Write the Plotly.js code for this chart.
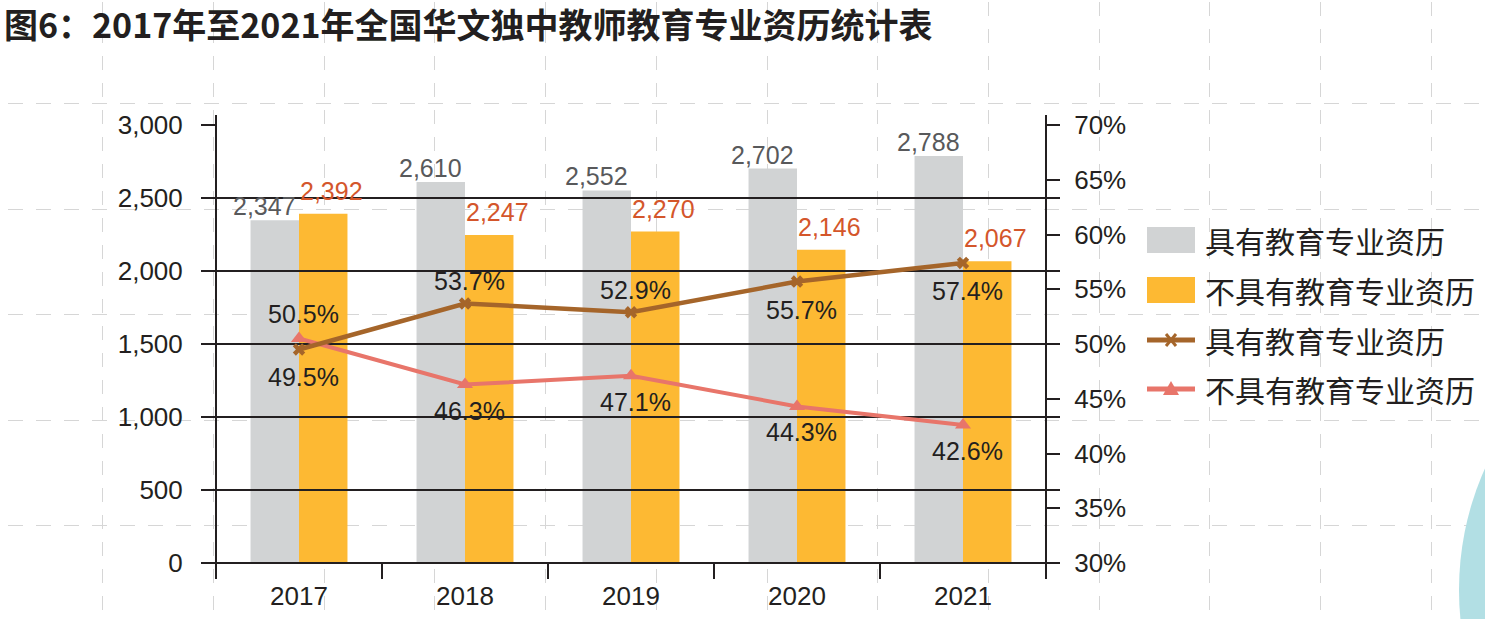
<!DOCTYPE html>
<html><head><meta charset="utf-8">
<script src="https://cdn.plot.ly/plotly-3.0.1.min.js"></script>
<style>
html,body{margin:0;padding:0;width:1485px;height:619px;overflow:hidden;background:#fff;}
#bg{position:absolute;left:0;top:0;}
#circle{position:absolute;left:1459px;top:292px;width:596px;height:596px;border-radius:50%;background:#b2dfe4;}
#chart{position:absolute;left:0;top:0;width:1485px;height:619px;}
</style></head><body>
<svg id="bg" width="1485" height="619" xmlns="http://www.w3.org/2000/svg"></svg>
<div id="circle"></div>
<div id="chart"></div>
<script>
// ---- data ----
const years = ['2017','2018','2019','2020','2021'];
const withQual = [2347, 2610, 2552, 2702, 2788];
const withoutQual = [2392, 2247, 2270, 2146, 2067];
const withPct = [49.5, 53.7, 52.9, 55.7, 57.4];
const withoutPct = [50.5, 46.3, 47.1, 44.3, 42.6];
const withPctLabelSide = ['below','above','above','below','below'];
const withoutPctLabelSide = ['above','below','below','below','below'];
const seriesNames = ['具有教育专业资历', '不具有教育专业资历'];
const leftTicks = [0, 500, 1000, 1500, 2000, 2500, 3000];
const rightTicks = [30, 35, 40, 45, 50, 55, 60, 65, 70];
const titleText = '图6：2017年至2021年全国华文独中教师教育专业资历统计表';

// ---- background dashed grid ----
(function(){
  let s = '';
  for (let k = 0; k < 14; k++) {
    const x = Math.round(102.3 + 110.7 * k) + 0.5;
    s += `<line x1="${x}" y1="2" x2="${x}" y2="619" stroke="#d6d6d6" stroke-width="1" stroke-dasharray="14 13"/>`;
  }
  for (let k = 0; k < 5; k++) {
    const y = Math.round(103.3 + 105.4 * k) + 0.5;
    s += `<line x1="8" y1="${y}" x2="1485" y2="${y}" stroke="#d6d6d6" stroke-width="1" stroke-dasharray="15 13"/>`;
  }
  document.getElementById('bg').innerHTML = s;
})();

// ---- styling ----
const NUM = 'Liberation Sans, Arial, sans-serif';
const CJK = 'Noto Sans CJK SC, sans-serif';
const ink = '#231f20';
const grayBar = '#d1d3d4', orangeBar = '#fdb933';
const brown = '#a5652a', salmon = '#e8756a';
const L = 216, R = 1046, T = 125, B = 563;
const W = R - L, H = B - T;
const px = x => (x - L) / W;
const py = y => (B - y) / H;

const traces = [
  {type:'bar', x:years, y:withQual, name:seriesNames[0], xaxis:'x', yaxis:'y',
   marker:{color:grayBar}, hoverinfo:'skip'},
  {type:'bar', x:years, y:withoutQual, name:seriesNames[1], xaxis:'x', yaxis:'y',
   marker:{color:orangeBar}, hoverinfo:'skip'},
  {type:'scatter', mode:'lines+markers', x:years, y:withoutPct, name:seriesNames[1],
   xaxis:'x2', yaxis:'y3', line:{color:salmon, width:4},
   marker:{symbol:'triangle-up', size:14, color:salmon}, hoverinfo:'skip'},
  {type:'scatter', mode:'lines+markers', x:years, y:withPct, name:seriesNames[0],
   xaxis:'x2', yaxis:'y3', line:{color:brown, width:4.5},
   marker:{symbol:'x', size:11, color:brown}, hoverinfo:'skip'}
];

const labelFont = 25;
const annotations = [];
years.forEach((yr, i) => {
  // x given as the category index on the category axis
  annotations.push({xref:'x', yref:'y', x:i, y:withQual[i], text:withQual[i].toLocaleString('en-US'),
    showarrow:false, xanchor:'center', yanchor:'bottom', xshift:-35, yshift:-2,
    font:{family:NUM, size:labelFont, color:'#58595b'}});
  annotations.push({xref:'x', yref:'y', x:i, y:withoutQual[i], text:withoutQual[i].toLocaleString('en-US'),
    showarrow:false, xanchor:'center', yanchor:'bottom', xshift:32, yshift:7,
    font:{family:NUM, size:labelFont, color:'#d4562b'}});
  annotations.push({xref:'x2', yref:'y3', x:i, y:withPct[i], text:withPct[i].toFixed(1) + '%',
    showarrow:false, xanchor:'center', yanchor:'middle', xshift:4,
    yshift: withPctLabelSide[i] === 'above' ? 22 : -28,
    font:{family:NUM, size:labelFont, color:ink}});
  annotations.push({xref:'x2', yref:'y3', x:i, y:withoutPct[i], text:withoutPct[i].toFixed(1) + '%',
    showarrow:false, xanchor:'center', yanchor:'middle', xshift:4,
    yshift: withoutPctLabelSide[i] === 'above' ? 25 : -26,
    font:{family:NUM, size:labelFont, color:ink}});
});

// custom legend
const legendRows = [240, 290, 340, 389];
const legendNames = [seriesNames[0], seriesNames[1], seriesNames[0], seriesNames[1]];
legendRows.forEach((yc, i) => {
  annotations.push({xref:'paper', yref:'paper', x:px(1203), y:py(yc), text:legendNames[i],
    showarrow:false, xanchor:'left', yanchor:'middle',
    font:{family:CJK, size:30, color:ink}});
});

const shapes = [];
shapes.push({type:'line', xref:'paper', yref:'paper', x0:0, x1:0, y0:py(578), y1:py(115), line:{color:ink, width:2}, layer:'above'});
shapes.push({type:'line', xref:'paper', yref:'paper', x0:1, x1:1, y0:py(578), y1:py(115), line:{color:ink, width:2}, layer:'above'});
leftTicks.forEach(v => shapes.push({type:'line', xref:'paper', yref:'y2', x0:1, x1:px(R + 14), y0:v, y1:v,
  line:{color:ink, width:2}, layer:'above'}));
shapes.push({type:'rect', xref:'paper', yref:'paper', x0:px(1147), x1:px(1195), y0:py(253), y1:py(227), fillcolor:grayBar, line:{width:0}});
shapes.push({type:'rect', xref:'paper', yref:'paper', x0:px(1147), x1:px(1195), y0:py(303), y1:py(277), fillcolor:orangeBar, line:{width:0}});
shapes.push({type:'line', xref:'paper', yref:'paper', x0:px(1147), x1:px(1195), y0:py(340), y1:py(340), line:{color:brown, width:5}});
shapes.push({type:'line', xref:'paper', yref:'paper', x0:px(1166), x1:px(1176), y0:py(334), y1:py(346), line:{color:brown, width:3}});
shapes.push({type:'line', xref:'paper', yref:'paper', x0:px(1166), x1:px(1176), y0:py(346), y1:py(334), line:{color:brown, width:3}});
shapes.push({type:'line', xref:'paper', yref:'paper', x0:px(1147), x1:px(1195), y0:py(389), y1:py(389), line:{color:salmon, width:5}});
shapes.push({type:'path', xref:'paper', yref:'paper',
  path:`M${px(1163)},${py(395)} L${px(1179)},${py(395)} L${px(1171)},${py(381)} Z`, fillcolor:salmon, line:{width:0}});

const tickFont = {family:NUM, size:26, color:ink};
const layout = {
  width:1485, height:619,
  margin:{l:L, r:1485 - R, t:T, b:619 - B, pad:0},
  paper_bgcolor:'rgba(0,0,0,0)', plot_bgcolor:'rgba(0,0,0,0)',
  showlegend:false,
  barmode:'group', bargap:0.416, bargroupgap:0,
  title:{text:titleText, font:{family:CJK, size:34, color:ink, weight:700},
    x:4/1485, xref:'container', xanchor:'left', y:1 - 26/619, yref:'container', yanchor:'middle'},
  xaxis:{type:'category', categoryorder:'array', categoryarray:years, range:[-0.5, 4.5], domain:[0,1], anchor:'y',
    showticklabels:false, ticks:'', showgrid:false, zeroline:false, showline:false},
  yaxis:{range:[0, 3000], domain:[0,1], anchor:'x', showticklabels:false, ticks:'',
    showgrid:false, zeroline:false, showline:false},
  xaxis2:{type:'category', categoryorder:'array', categoryarray:years, range:[-0.5, 4.5], domain:[0,1], anchor:'y2',
    tickson:'boundaries', ticks:'outside', ticklen:15, tickwidth:2, tickcolor:ink,
    showgrid:false, zeroline:false, showline:false, tickfont:tickFont, ticklabelstandoff:15},
  yaxis2:{range:[0, 3000], domain:[0,1], anchor:'x2', tickmode:'linear', tick0:leftTicks[0], dtick:leftTicks[1] - leftTicks[0], tickformat:',d',
    ticks:'outside', ticklen:14, tickwidth:2, tickcolor:ink,
    showgrid:true, gridcolor:ink, gridwidth:2, zeroline:true, zerolinecolor:ink, zerolinewidth:2,
    showline:false, tickfont:tickFont, ticklabelstandoff:13},
  yaxis3:{range:[30, 70], overlaying:'y2', anchor:'x2', side:'right', tickmode:'linear', tick0:rightTicks[0], dtick:rightTicks[1] - rightTicks[0],
    ticksuffix:'%', ticks:'outside', ticklen:13, tickwidth:2, tickcolor:ink,
    showgrid:false, zeroline:false, showline:false, tickfont:tickFont, ticklabelstandoff:9},
  annotations, shapes
};

Plotly.newPlot('chart', traces, layout, {staticPlot:true, displayModeBar:false});
</script>
</body></html>
